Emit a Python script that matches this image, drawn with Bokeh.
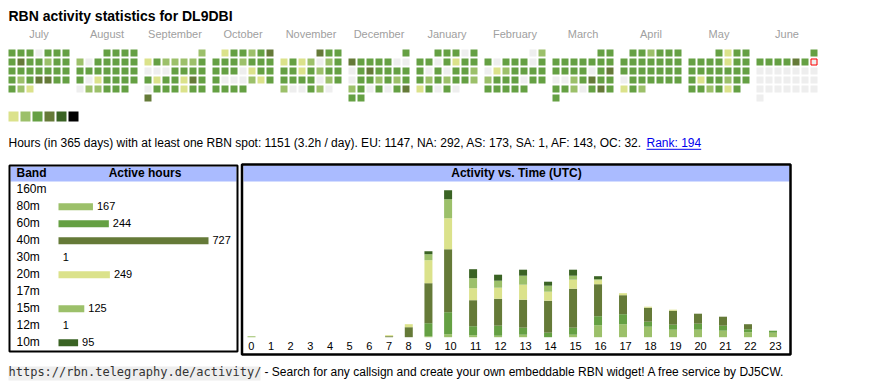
import datetime as dt
from bokeh.plotting import figure
from bokeh.models import Range1d
from bokeh.core.properties import value
from bokeh.embed import file_html
from bokeh.resources import INLINE

# ---------------- data ----------------
title = "RBN activity statistics for DL9DBI"
month_names = ["July", "August", "September", "October", "November", "December",
               "January", "February", "March", "April", "May", "June"]
month_first = [(2024, 7), (2024, 8), (2024, 9), (2024, 10), (2024, 11), (2024, 12),
               (2025, 1), (2025, 2), (2025, 3), (2025, 4), (2025, 5), (2025, 6)]
today = dt.date(2025, 6, 8)

# activity level per day (0 = no spot, 1..6 = legend colours)
lv_jul = [3, 3, 3, 0, 3, 3, 3, 3, 4, 3, 3, 2, 3, 3, 3, 3, 3, 3, 3, 3, 3, 3, 2, 3, 4, 4, 3, 3, 3, 2, 1]
lv_aug = [3, 3, 3, 3, 2, 0, 3, 3, 3, 3, 3, 3, 3, 3, 3, 3, 3, 3, 3, 0, 1, 3, 3, 3, 3, 0, 2, 2, 3, 3, 3]
lv_sep = [2, 1, 3, 2, 2, 2, 2, 3, 0, 0, 0, 3, 3, 3, 3, 3, 1, 3, 3, 1, 4, 3, 0, 3, 3, 3, 1, 3, 3, 4]
lv_oct = [1, 3, 3, 2, 3, 4, 3, 3, 3, 2, 3, 3, 3, 3, 3, 3, 0, 1, 3, 3, 3, 0, 0, 0, 2, 1, 3, 3, 3, 3, 3]
lv_nov = [4, 3, 3, 1, 3, 1, 2, 0, 2, 3, 3, 3, 1, 3, 2, 3, 3, 3, 3, 3, 3, 0, 2, 3, 2, 0, 0, 3, 2, 0]
lv_dec = [3, 4, 3, 3, 3, 3, 0, 0, 0, 3, 4, 3, 3, 3, 3, 0, 3, 3, 2, 3, 2, 3, 2, 3, 0, 3, 0, 3, 4, 3, 3]
lv_jan = [3, 3, 3, 0, 3, 3, 3, 0, 3, 1, 3, 3, 3, 0, 3, 0, 3, 3, 2, 3, 2, 3, 2, 3, 3, 2, 1, 3, 0, 3, 0]
lv_feb = [0, 2, 3, 0, 3, 3, 3, 0, 3, 0, 1, 2, 3, 3, 3, 3, 2, 3, 3, 3, 0, 3, 3, 3, 3, 3, 3, 3]
lv_mar = [3, 3, 3, 3, 3, 3, 3, 3, 3, 3, 3, 3, 3, 0, 3, 4, 0, 0, 2, 3, 4, 3, 3, 3, 3, 2, 0, 3, 4, 3, 3]
lv_apr = [3, 3, 2, 3, 3, 3, 3, 3, 3, 3, 3, 3, 3, 3, 3, 3, 3, 3, 3, 3, 0, 3, 3, 3, 3, 3, 3, 1, 3, 2]
lv_may = [3, 1, 3, 3, 3, 3, 3, 3, 1, 3, 3, 3, 3, 3, 3, 3, 3, 3, 3, 1, 3, 3, 2, 3, 3, 3, 3, 2, 3, 1, 3]
lv_jun = [3, 3, 3, 3, 3, 4, 3, 0, 0, 0, 0, 0, 0, 0, 0, 0, 0, 0, 0, 0, 0, 0, 0, 0, 0, 0, 0, 0, 0, 0]
day_levels = [lv_jul, lv_aug, lv_sep, lv_oct, lv_nov, lv_dec,
              lv_jan, lv_feb, lv_mar, lv_apr, lv_may, lv_jun]

level_colors = ["#eeeeee", "#dbe28b", "#9cc06a", "#65a043", "#657a38", "#3a6324", "#000000"]

summary = ("Hours (in 365 days) with at least one RBN spot: 1151 (3.2h / day). "
           "EU: 1147, NA: 292, AS: 173, SA: 1, AF: 143, OC: 32.")
rank_text = "Rank: 194"

bands = ["160m", "80m", "60m", "40m", "30m", "20m", "17m", "15m", "12m", "10m"]
band_hours = [None, 167, 244, 727, 1, 249, None, 125, 1, 95]
band_colors = ["#000000", "#9cc06a", "#65a043", "#657a38", "#000000",
               "#dbe28b", "#000000", "#9cc06a", "#000000", "#3a6324"]

hour_labels = ["0", "1", "2", "3", "4", "5", "6", "7", "8", "9", "10", "11",
               "12", "13", "14", "15", "16", "17", "18", "19", "20", "21", "22", "23"]
stack_bands = ["80m", "60m", "40m", "20m", "15m", "10m"]
stack_colors = ["#9cc06a", "#65a043", "#657a38", "#dbe28b", "#9cc06a", "#3a6324"]
act_80m = [2, 0, 0, 0, 0, 0, 0, 0, 0, 2, 6, 4, 3, 5, 0, 5, 24, 26, 21, 15, 15, 13, 10, 9]
act_60m = [0, 0, 0, 0, 0, 0, 0, 0, 0, 26, 44, 18, 20, 14, 9, 14, 18, 20, 10, 10, 12, 10, 6, 4]
act_40m = [0, 0, 0, 0, 0, 0, 0, 2, 20, 80, 126, 52, 54, 56, 64, 78, 64, 38, 28, 28, 20, 18, 10, 0]
act_20m = [0, 0, 0, 0, 0, 0, 0, 2, 6, 46, 62, 24, 22, 30, 18, 18, 8, 4, 2, 2, 0, 0, 0, 0]
act_15m = [0, 0, 0, 0, 0, 0, 0, 0, 0, 12, 38, 20, 14, 18, 12, 8, 2, 0, 0, 0, 0, 0, 0, 0]
act_10m = [0, 0, 0, 0, 0, 0, 0, 0, 0, 6, 18, 18, 12, 12, 8, 12, 6, 0, 0, 0, 0, 0, 0, 0]
act_series = [act_80m, act_60m, act_40m, act_20m, act_15m, act_10m]

footer_url = "https://rbn.telegraphy.de/activity/"
footer_text = "- Search for any callsign and create your own embeddable RBN widget! A free service by DJ5CW."

# ---------------- layout (page pixels) ----------------
FONT = "Liberation Sans"
MONO = "DejaVu Sans Mono"
W, H = 860, 388
BASE_SHIFT = 0.42           # measured offset of Bokeh's text anchor, in em

CELL, PITCH, BLOCK, CAL_LEFT, CAL_TOP = 7, 9, 68, 8, 49

ACT_BASE = 336.7
ACT_MAX_PX = 147.0
totals = [sum(s[i] for s in act_series) for i in range(len(hour_labels))]
k_act = ACT_MAX_PX / max(totals)

BAND_X0 = 58.0
BAND_MAX_PX = 150.0
k_band = BAND_MAX_PX / max(v for v in band_hours if v is not None)

p = figure(width=W, height=H, x_range=Range1d(0, W), y_range=Range1d(H, 0),
           output_backend="svg", toolbar_location=None, min_border=0,
           x_axis_type=None, y_axis_type=None)
p.grid.visible = False
p.outline_line_color = None
p.background_fill_color = "white"
p.border_fill_color = "white"
p.extra_y_ranges = {"act": Range1d(-(H - ACT_BASE) / k_act, ACT_BASE / k_act)}
p.extra_x_ranges = {"band": Range1d(-BAND_X0 / k_band, (W - BAND_X0) / k_band)}


def txt(x, y, s, size, color="#000000", bold=False, align="left", font=FONT, **kw):
    px = float(size.replace("px", ""))
    p.text(x=x, y=[v - BASE_SHIFT * px for v in y], text=s, text_font=value(font),
           text_font_size=size, text_color=color,
           text_font_style="bold" if bold else "normal",
           text_align=align, text_baseline="alphabetic", **kw)


# title
txt([8], [21], [title], "14px", bold=True)

# calendar
L, R, T, B, C = [], [], [], [], []
for m, ((yy, mm), levels) in enumerate(zip(month_first, day_levels)):
    first_wd = dt.date(yy, mm, 1).weekday()
    for i, lv in enumerate(levels):
        d = dt.date(yy, mm, i + 1)
        col = d.weekday()
        row = (i + first_wd) // 7
        x0 = CAL_LEFT + m * BLOCK + col * PITCH
        y0 = CAL_TOP + row * PITCH
        L.append(x0); R.append(x0 + CELL); T.append(y0); B.append(y0 + CELL)
        C.append(level_colors[lv])
        if d == today:
            tx, ty = x0, y0
p.quad(left=L, right=R, top=T, bottom=B, fill_color=C, line_color=None)
p.quad(left=[tx + 0.5], right=[tx + CELL - 0.5], top=[ty + 0.5], bottom=[ty + CELL - 0.5],
       fill_color=None, line_color="#ff0000", line_width=1)

txt([CAL_LEFT + m * BLOCK + (7 * PITCH - 2) / 2 for m in range(12)], [38.5] * 12,
    month_names, "11px", color="#a0a0a0", align="center")

# legend squares
nl = len(level_colors) - 1
p.quad(left=[8 + 12 * i for i in range(nl)], right=[18 + 12 * i for i in range(nl)],
       top=[111] * nl, bottom=[121] * nl, fill_color=level_colors[1:], line_color=None)

# summary line
txt([8], [147.3], [summary], "12px")
RANK_X = 646
txt([RANK_X], [147.3], [rank_text], "12px", color="#0000ee")
p.segment(x0=[RANK_X], x1=[RANK_X + 54.7], y0=[148.8], y1=[148.8], line_color="#0000ee", line_width=1)

# band table
HDR = "#aabbff"
p.quad(left=[10], right=[236], top=[166], bottom=[181], fill_color=HDR, line_color=None)
p.quad(left=[9], right=[237], top=[165], bottom=[351], fill_color=None,
       line_color="#000000", line_width=2)
txt([16], [177.5], ["Band"], "12px", bold=True)
txt([144.5], [177.5], ["Active hours"], "12px", bold=True, align="center")
row_base = [193.3 + 17 * i for i in range(len(bands))]
txt([16] * len(bands), row_base, bands, "12px")
bx, by, bc, lx, ly, lt = [], [], [], [], [], []
for b, v, c, yb in zip(bands, band_hours, band_colors, row_base):
    if v is None:
        continue
    if v * k_band >= 1:            # bars narrower than a pixel are not drawn (as in HTML)
        bx.append(v); by.append(yb - 4); bc.append(c)
    lx.append(v); ly.append(yb); lt.append(str(v))
p.hbar(y=by, left=0, right=bx, height=7, fill_color=bc, line_color=None, x_range_name="band")
txt(lx, ly, lt, "11px", x_offset=4, x_range_name="band")

# activity chart
p.quad(left=[243], right=[789], top=[165], bottom=[181], fill_color=HDR, line_color=None)
p.quad(left=[241.5], right=[790], top=[164], bottom=[354], fill_color=None,
       line_color="#000000", line_width=2.5)
txt([516], [177.3], ["Activity vs. Time (UTC)"], "12px", bold=True, align="center")

COL_LEFT0 = 241.0
col_w = [14.33 + 5.33 * len(s) for s in hour_labels]
lefts = []
acc = COL_LEFT0
for w in col_w:
    lefts.append(acc)
    acc += w
bar_x = [l + 10 for l in lefts]
lab_x = [l + w / 2 for l, w in zip(lefts, col_w)]

bottom = [0] * len(hour_labels)
for series, color in zip(act_series, stack_colors):
    top = [b + s for b, s in zip(bottom, series)]
    xs = [x for x, s in zip(bar_x, series) if s > 0]
    bs = [b for b, s in zip(bottom, series) if s > 0]
    ts = [t for t, s in zip(top, series) if s > 0]
    p.vbar(x=xs, bottom=bs, top=ts, width=8, fill_color=color, line_color=None, y_range_name="act")
    bottom = top

txt(lab_x, [350] * len(hour_labels), hour_labels, "11px", align="center")

# footer
p.quad(left=[8], right=[260], top=[366], bottom=[380], fill_color="#eeeeee", line_color=None)
txt([8], [377], [footer_url], "12px", color="#333333", font=MONO)
txt([264], [377], [footer_text], "12px")

open("out.html", "w").write(file_html(p, INLINE))
